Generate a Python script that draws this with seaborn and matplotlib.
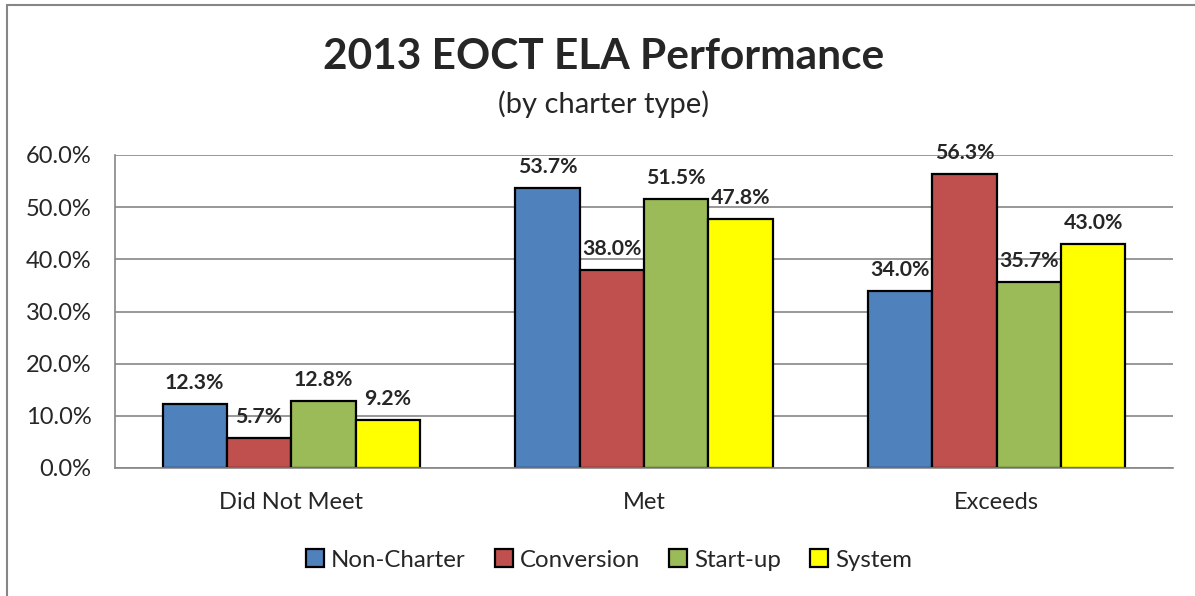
import matplotlib
matplotlib.use("Agg")
import matplotlib.pyplot as plt
import seaborn as sns
import pandas as pd
from matplotlib.patches import Rectangle
from matplotlib.ticker import FixedLocator

categories = ["Did Not Meet", "Met", "Exceeds"]
series = ["Non-Charter", "Conversion", "Start-up", "System"]
non_charter = [12.3, 53.7, 34.0]
conversion = [5.7, 38.0, 56.3]
start_up = [12.8, 51.5, 35.7]
system = [9.2, 47.8, 43.0]
colors = ["#4F81BD", "#C0504D", "#9BBB59", "#FFFF00"]
yticks = [0, 10, 20, 30, 40, 50, 60]

rows = []
for s, vals in zip(series, [non_charter, conversion, start_up, system]):
    for c, v in zip(categories, vals):
        rows.append({"category": c, "series": s, "value": v})
df = pd.DataFrame(rows)

sns.set_style("white")
plt.rcParams["font.family"] = ["Lato", "DejaVu Sans"]
plt.rcParams["legend.handleheight"] = 0.75

fig = plt.figure(figsize=(11.95, 5.96), dpi=100)
ax = fig.add_axes([115/1195, 1-468/596, (1173-115)/1195, (468-155)/596])

sns.barplot(data=df, x="category", y="value", hue="series", order=categories,
            hue_order=series, palette=colors, width=0.73, gap=0,
            edgecolor="black", linewidth=1.6, ax=ax, legend=True, saturation=1)

ax.set_ylim(0, 60)
ax.set_xlim(-0.5, 2.5)
ax.set_yticks(yticks)
ax.set_yticklabels([f"{t:.1f}%" for t in yticks], fontsize=17)
ax.yaxis.grid(True, color="#868686", linewidth=1.2)
ax.set_axisbelow(True)
ax.set_xlabel("")
ax.set_ylabel("")
ax.tick_params(axis="x", which="major", length=0, labelsize=17, pad=17)
ax.tick_params(axis="y", length=6, color="#868686", width=1.2, pad=11)
ax.xaxis.set_minor_locator(FixedLocator([-0.5, 0.5, 1.5, 2.5]))
ax.tick_params(axis="x", which="minor", length=6, color="#868686", width=1.2)
for sp in ["top", "right"]:
    ax.spines[sp].set_visible(False)
for sp in ["left", "bottom"]:
    ax.spines[sp].set_color("#868686")
    ax.spines[sp].set_linewidth(1.2)

for cont in ax.containers:
    ax.bar_label(cont, labels=[f"{v:.1f}%" for v in cont.datavalues],
                 padding=8, fontsize=15.3, fontweight="bold")

handles, labels = ax.get_legend_handles_labels()
ax.legend(handles, labels, loc="center", bbox_to_anchor=(609/1195, 1-560/596),
          bbox_transform=fig.transFigure, ncol=4, frameon=False, fontsize=17.3,
          handlelength=0.75, handletextpad=0.3, columnspacing=1.2)

fig.text(604/1195, 1-57/596, "2013 EOCT ELA Performance", ha="center", va="center",
         fontsize=30.5, fontweight="bold")
fig.text(604/1195, 1-104/596, "(by charter type)", ha="center", va="center", fontsize=21)

fig.patches.append(Rectangle((7/1195, -0.1), 1.2, 1 - 4.5/596 + 0.1, transform=fig.transFigure,
                             fill=False, edgecolor="#868686", linewidth=1.5, clip_on=False))

fig.savefig("out.png", dpi=100)
